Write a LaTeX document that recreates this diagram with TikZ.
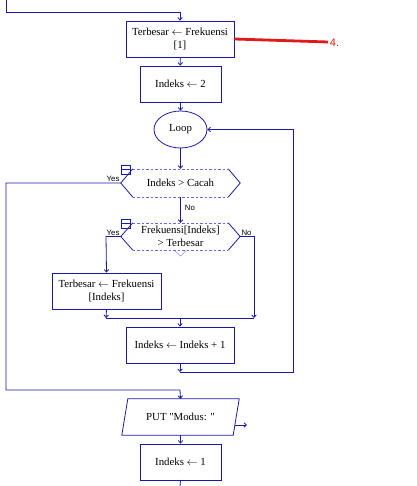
\documentclass[tikz,border=0pt]{standalone}
\usepackage{fontspec}
\setmainfont{Liberation Serif}[Ligatures=TeXOff]
\newfontfamily\labelfont{Liberation Sans}
\usetikzlibrary{arrows.meta, calc, shapes.geometric}
\definecolor{flow}{RGB}{26,26,170}
\definecolor{flowdash}{RGB}{105,105,225}
\definecolor{redline}{RGB}{225,25,25}
\newcommand{\isi}{$\leftarrow$}

\begin{document}
\begin{tikzpicture}[x=1pt, y=-1pt, >={Straight Barb[length=2.5pt,width=4.5pt]},
  box/.style={draw=flow, line width=0.8pt, minimum width=#1, minimum height=36pt,
    inner sep=0pt, align=center, font=\fontsize{10.8}{13}\selectfont},
  cond/.style={minimum width=95pt, minimum height=#1, inner sep=0pt, align=center,
    font=\fontsize{10.8}{13}\selectfont},
  yesno/.style={font=\labelfont\fontsize{7.8}{9}\selectfont, inner sep=1pt, text=black},
  line/.style={flow, line width=0.8pt},
  icon/.style={flow, line width=0.8pt}]
\useasboundingbox (0,0) rectangle (416,486);

\node[box=108] (init) at (180,39) {Terbesar \isi\ Frekuensi\\{}[1]};
\node[box=81] (idx) at (180.5,84) {Indeks \isi\ 2};
\node[ellipse, draw=flow, line width=0.8pt, minimum width=53pt, minimum height=37pt,
  inner sep=0pt, font=\fontsize{10.8}{13}\selectfont] (loop) at (180.5,129.5) {Loop};
\node[cond=28pt] (cek) at (180.5,183) {Indeks > Cacah};
\node[cond=27pt] (banding) at (180.5,236.5) {Frekuensi[Indeks]\\> Terbesar};
\node[box=109] (ganti) at (106.5,291) {Terbesar \isi\ Frekuensi\\{}[Indeks]};
\node[box=108] (tambah) at (180,345) {Indeks \isi\ Indeks + 1};
\node[cond=36pt, minimum width=111pt] (put) at (180.5,417) {PUT "Modus: "};
\node[box=81] (reset) at (180.5,462) {Indeks \isi\ 1};

\coordinate (cekL) at ($(cek.west)+(-12,0)$);
\coordinate (cekR) at ($(cek.east)+(12,0)$);
\coordinate (bandL) at ($(banding.west)+(-12,0)$);
\coordinate (bandR) at ($(banding.east)+(12,0)$);

\draw[flowdash, dash pattern=on 2.5pt off 2pt] (cek.north west) -- (cek.north east)
  (cek.south west) -- (cek.south east);
\draw[line] (cek.north west) -- (cekL) -- (cek.south west)
  (cek.north east) -- (cekR) -- (cek.south east);
\draw[flowdash, dash pattern=on 2.5pt off 2pt] (banding.north west) -- (banding.north east)
  (banding.south west) -- (banding.south east);
\draw[flowdash] ($(banding.south)+(-6,0)$) -- ($(banding.south)+(0,6)$) -- ($(banding.south)+(6,0)$);
\draw[line] (banding.north west) -- (bandL) -- (banding.south west)
  (banding.north east) -- (bandR) -- (banding.south east);
\draw[icon] (121,165) rectangle (130,174) (121,169.5) -- (130,169.5);
\draw[icon] (121,219) rectangle (130,228) (121,223.5) -- (130,223.5);

\draw[line] ($(put.south west)+(-3,0)$) -- ($(put.north west)+(3,0)$)
  -- ($(put.north east)+(3,0)$) -- ($(put.south east)+(-3,0)$) -- cycle;
\coordinate (putout) at (247,425);
\draw[line, ->] (234.7,425) -- (putout);

\coordinate (masuk) at (6,0);
\coordinate (gabung) at (106,318);
\coordinate (gabungR) at (254,318);
\coordinate (balik) at (180,372);
\coordinate (keluar) at (180,486);

\draw[line, ->] (masuk) -- (6,12) -- (180,12) -- (init.north);
\draw[line, ->] (init) -- (idx);
\draw[line, ->] (idx) -- (loop);
\draw[line, ->] (loop) -- (cek.north);
\draw[line, ->] (cek.south) -- node[yesno, anchor=west, xshift=3pt, pos=0.4] {No} (banding.north);
\draw[line, ->] (cekL) -- node[yesno, anchor=south east, pos=0] {Yes} (6,183) -- (6,390) -- (180,390) -- (put.north);
\draw[line, ->] (bandL) -- node[yesno, anchor=south east, pos=0] {Yes} (106,236.5) -- (ganti.north);
\draw[line, ->] (bandR) -- node[yesno, anchor=south west, pos=0] {No} (254,236.5) -- (gabungR);
\draw[line, ->] (ganti.south) -- (gabung);
\draw[line] (gabung) -- (gabungR);
\draw[line, ->] (180,318) -- (tambah.north);
\draw[line, ->] (tambah.south) -- (balik);
\draw[line, ->] (balik) -- (293,372) -- (293,129.5) -- (loop.east);
\draw[line, ->] (put.south) -- (reset.north);
\draw[line] (reset.south) -- (keluar);

\draw[redline, line width=2.8pt] (init.east) -- (328,42)
  node[right=0pt, inner sep=0.5pt, yshift=-1pt, font=\labelfont\fontsize{11}{12}\selectfont, redline] (nomor) {4.};
\end{tikzpicture}
\end{document}
